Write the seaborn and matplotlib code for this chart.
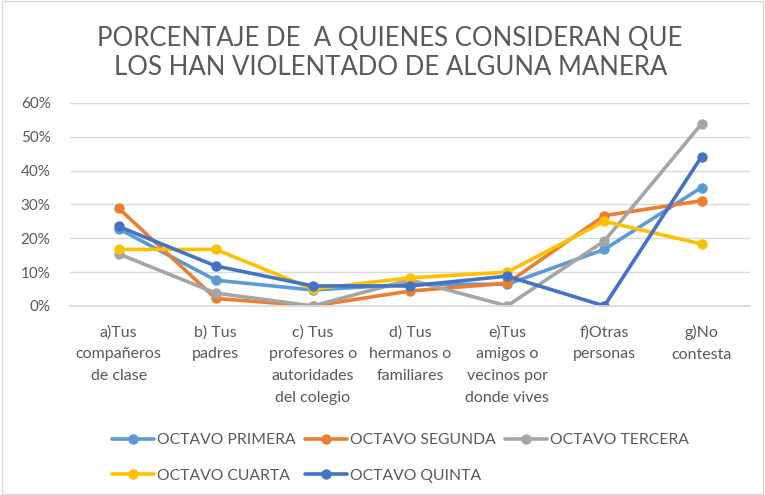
import matplotlib
matplotlib.use("Agg")
import matplotlib.pyplot as plt
import seaborn as sns
import pandas as pd
from matplotlib.ticker import PercentFormatter

categories = ["a)Tus\ncompañeros\nde clase", "b) Tus\npadres", "c) Tus\nprofesores o\nautoridades\ndel colegio",
              "d) Tus\nhermanos o\nfamiliares", "e)Tus\namigos o\nvecinos por\ndonde vives",
              "f)Otras\npersonas", "g)No\ncontesta"]
series_names = ["OCTAVO PRIMERA", "OCTAVO SEGUNDA", "OCTAVO TERCERA", "OCTAVO CUARTA", "OCTAVO QUINTA"]
primera = [0.228, 0.076, 0.047, 0.064, 0.064, 0.167, 0.350]
segunda = [0.289, 0.022, 0.000, 0.044, 0.067, 0.267, 0.311]
tercera = [0.154, 0.038, 0.000, 0.077, 0.000, 0.192, 0.538]
cuarta = [0.167, 0.167, 0.050, 0.083, 0.100, 0.250, 0.183]
quinta = [0.235, 0.118, 0.059, 0.059, 0.088, 0.000, 0.441]
colors = ["#5B9BD5", "#ED7D31", "#A5A5A5", "#FFC000", "#4472C4"]

rows = []
for name, vals in zip(series_names, [primera, segunda, tercera, cuarta, quinta]):
    for i, v in enumerate(vals):
        rows.append({"pos": i, "val": v, "serie": name})
df = pd.DataFrame(rows)

sns.set_theme(style="white")
plt.rcParams["font.family"] = ["Lato", "DejaVu Sans"]

fig = plt.figure(figsize=(7.65, 4.95), dpi=100)
ax = fig.add_axes([0.0915, 0.382, 0.889, 0.41])

sns.lineplot(data=df, x="pos", y="val", hue="serie", hue_order=series_names,
             palette=colors, marker="o", markersize=7.5, markeredgewidth=0,
             linewidth=2.6, ax=ax, legend=True)

ax.set_xlim(-0.5, 6.5)
ax.set_ylim(0, 0.6)
ax.set_yticks([0, 0.1, 0.2, 0.3, 0.4, 0.5, 0.6])
ax.yaxis.set_major_formatter(PercentFormatter(1.0, decimals=0))
ax.set_xticks(range(len(categories)))
ax.set_xticklabels(categories, fontsize=11.5, color="#595959", linespacing=1.7, va="top")
ax.tick_params(axis="y", labelsize=11, labelcolor="#595959", length=0, pad=14)
ax.tick_params(axis="x", length=0, pad=14)
ax.grid(axis="y", color="#D9D9D9", linewidth=1)
ax.set_axisbelow(True)
for s in ["top", "right", "left"]:
    ax.spines[s].set_visible(False)
ax.spines["bottom"].set_color("#D9D9D9")
ax.set_xlabel("")
ax.set_ylabel("")

handles, labels = ax.get_legend_handles_labels()
ax.get_legend().remove()
order = [0, 3, 1, 4, 2]
fig.legend([handles[i] for i in order], [labels[i] for i in order], loc="upper left",
           bbox_to_anchor=(0.138, 0.137), ncol=3, frameon=False, fontsize=11.3,
           labelcolor="#595959", handlelength=2.7, handletextpad=0.2,
           columnspacing=0.55, borderaxespad=0, labelspacing=1.35)

fig.text(0.51, 0.893, "PORCENTAJE DE  A QUIENES CONSIDERAN QUE\nLOS HAN VIOLENTADO DE ALGUNA MANERA",
         ha="center", va="center", fontsize=18.5, color="#595959", linespacing=1.2)

fig.patches.append(plt.Rectangle((0.003, 0.003), 0.994, 0.994, transform=fig.transFigure,
                                 fill=False, edgecolor="#D9D9D9", linewidth=1))

fig.savefig("out.png", dpi=100, facecolor="white")
